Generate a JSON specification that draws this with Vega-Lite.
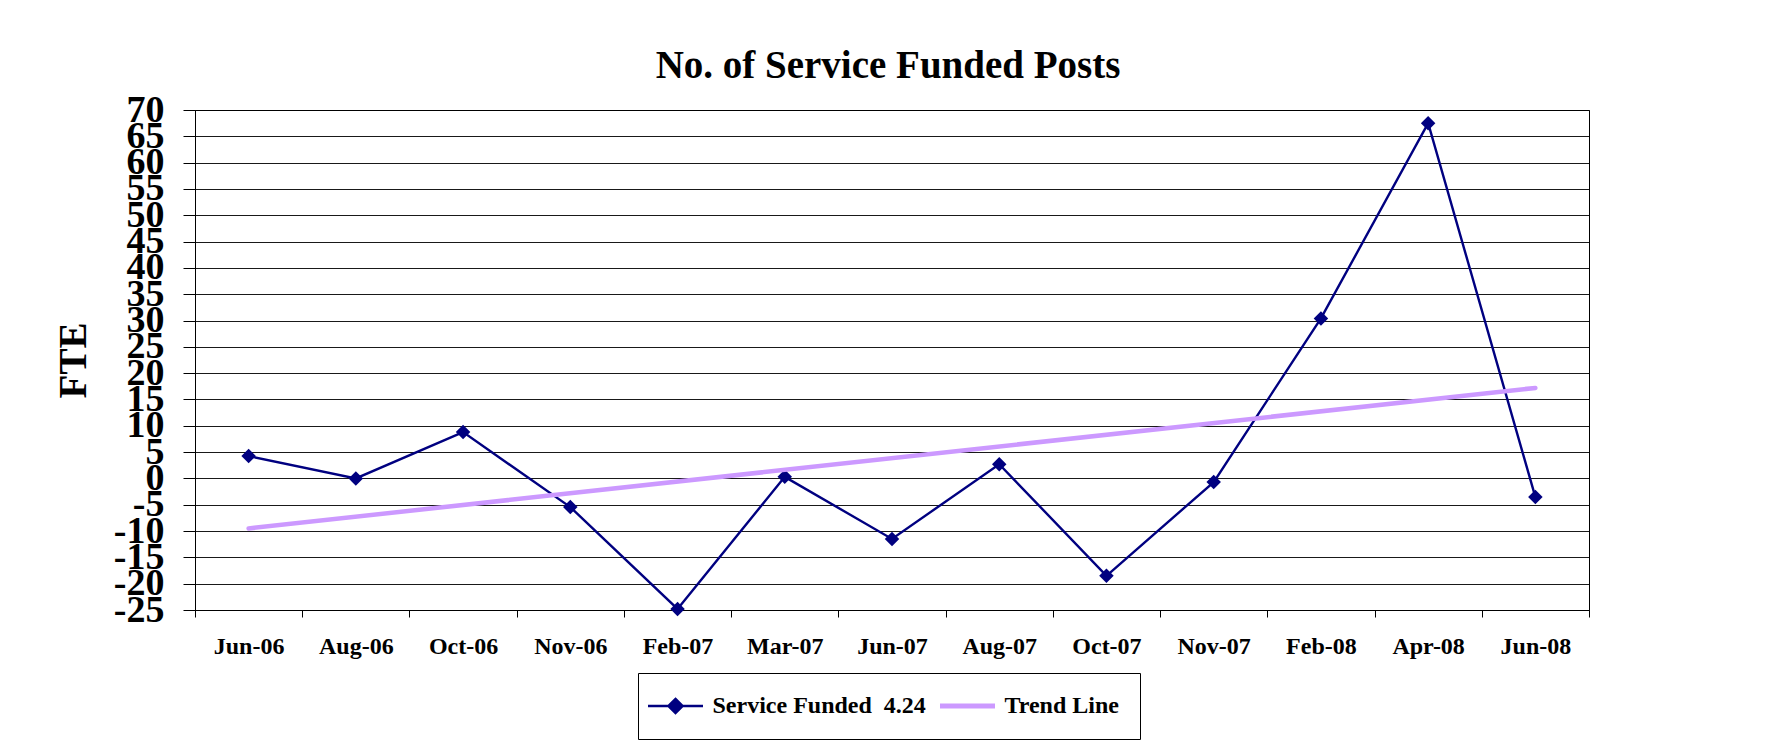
{
  "$schema": "https://vega.github.io/schema/vega-lite/v6.json",
  "width": 1394,
  "height": 500,
  "autosize": {"type": "none"},
  "padding": {"left": 195, "top": 110, "right": 177, "bottom": 142},
  "background": "white",
  "title": {
    "text": "No. of Service Funded Posts",
    "font": "Liberation Serif",
    "fontSize": 39,
    "fontWeight": "bold",
    "color": "black",
    "frame": "group",
    "anchor": "middle",
    "baseline": "alphabetic",
    "offset": 35,
    "dx": -4,
    "dy": 61
  },
  "datasets": {
    "main": [
      {"month": "Jun-06", "fte": 4.25},
      {"month": "Aug-06", "fte": 0},
      {"month": "Oct-06", "fte": 8.8},
      {"month": "Nov-06", "fte": -5.45},
      {"month": "Feb-07", "fte": -24.8},
      {"month": "Mar-07", "fte": 0.3},
      {"month": "Jun-07", "fte": -11.5},
      {"month": "Aug-07", "fte": 2.7},
      {"month": "Oct-07", "fte": -18.5},
      {"month": "Nov-07", "fte": -0.7},
      {"month": "Feb-08", "fte": 30.4},
      {"month": "Apr-08", "fte": 67.5},
      {"month": "Jun-08", "fte": -3.55}
    ],
    "trend": [
      {"month": "Jun-06", "fte": -9.5},
      {"month": "Jun-08", "fte": 17.2}
    ]
  },
  "config": {
    "view": {"stroke": "black", "strokeWidth": 1},
    "axis": {"domainColor": "black", "domainWidth": 1, "tickColor": "black", "tickWidth": 1}
  },
  "encoding": {
    "x": {
      "field": "month",
      "type": "nominal",
      "sort": null,
      "bandPosition": 0.5,
      "scale": {
        "type": "band",
        "domain": ["Jun-06", "Aug-06", "Oct-06", "Nov-06", "Feb-07", "Mar-07", "Jun-07", "Aug-07", "Oct-07", "Nov-07", "Feb-08", "Apr-08", "Jun-08"],
        "paddingInner": 0,
        "paddingOuter": 0
      },
      "axis": {
        "title": null,
        "labelAngle": 0,
        "tickBand": "extent",
        "tickSize": 7,
        "labelPadding": 17,
        "labelFont": "Liberation Serif",
        "labelFontSize": 24,
        "labelFontWeight": "bold",
        "labelColor": "black",
        "grid": false
      }
    },
    "y": {
      "field": "fte",
      "type": "quantitative",
      "scale": {"domain": [-25, 70], "nice": false, "zero": false},
      "axis": {
        "values": [-25, -20, -15, -10, -5, 0, 5, 10, 15, 20, 25, 30, 35, 40, 45, 50, 55, 60, 65, 70],
        "labelExpr": "'' + datum.value",
        "title": "FTE",
        "titleFont": "Liberation Serif",
        "titleFontSize": 39,
        "titleFontWeight": "bold",
        "titleColor": "black",
        "titleAngle": -90,
        "titleX": -122,
        "titleY": 250,
        "titleAlign": "center",
        "titleBaseline": "middle",
        "labelFont": "Liberation Serif",
        "labelFontSize": 38,
        "labelFontWeight": "bold",
        "labelColor": "black",
        "labelOverlap": false,
        "labelFlush": false,
        "labelBound": false,
        "labelPadding": 19,
        "tickSize": 12,
        "grid": true,
        "gridColor": "black",
        "gridWidth": 1,
        "gridOpacity": 0.9
      }
    }
  },
  "layer": [
    {
      "data": {"name": "main"},
      "mark": {"type": "line", "strokeWidth": 2.4, "point": {"shape": "diamond", "size": 210, "filled": true, "opacity": 1}},
      "encoding": {
        "color": {
          "datum": "Service Funded\u00a0 4.24",
          "type": "nominal",
          "scale": {"domain": ["Service Funded\u00a0 4.24", "Trend Line"], "range": ["#000080", "#CC99FF"]},
          "legend": {
            "orient": "none",
            "legendX": 443,
            "legendY": 563,
            "direction": "horizontal",
            "title": null,
            "labelFont": "Liberation Serif",
            "labelFontSize": 24,
            "labelFontWeight": "bold",
            "labelColor": "black",
            "labelLimit": 500,
            "labelOffset": 25,
            "symbolSize": 3025,
            "symbolStrokeWidth": 2,
            "symbolOffset": 4.5,
            "padding": 21,
            "columnPadding": 4,
            "strokeColor": "black",
            "fillColor": "white",
            "symbolType": "stroke",
            "encode": {
              "symbols": {
                "update": {
                  "shape": {"signal": "datum.label === 'Trend Line' ? 'stroke' : 'M-1,0L1,0M0,-0.26L0.26,0L0,0.26L-0.26,0Z'"},
                  "fill": {"signal": "datum.label === 'Trend Line' ? 'transparent' : '#000080'"},
                  "stroke": {"signal": "datum.label === 'Trend Line' ? '#CC99FF' : '#000080'"},
                  "strokeWidth": {"signal": "datum.label === 'Trend Line' ? 5 : 2.4"},
                  "opacity": {"value": 1}
                }
              }
            }
          }
        }
      }
    },
    {
      "data": {"name": "trend"},
      "mark": {"type": "line", "strokeWidth": 4.5, "strokeCap": "round"},
      "encoding": {
        "color": {"datum": "Trend Line", "type": "nominal"}
      }
    }
  ]
}
